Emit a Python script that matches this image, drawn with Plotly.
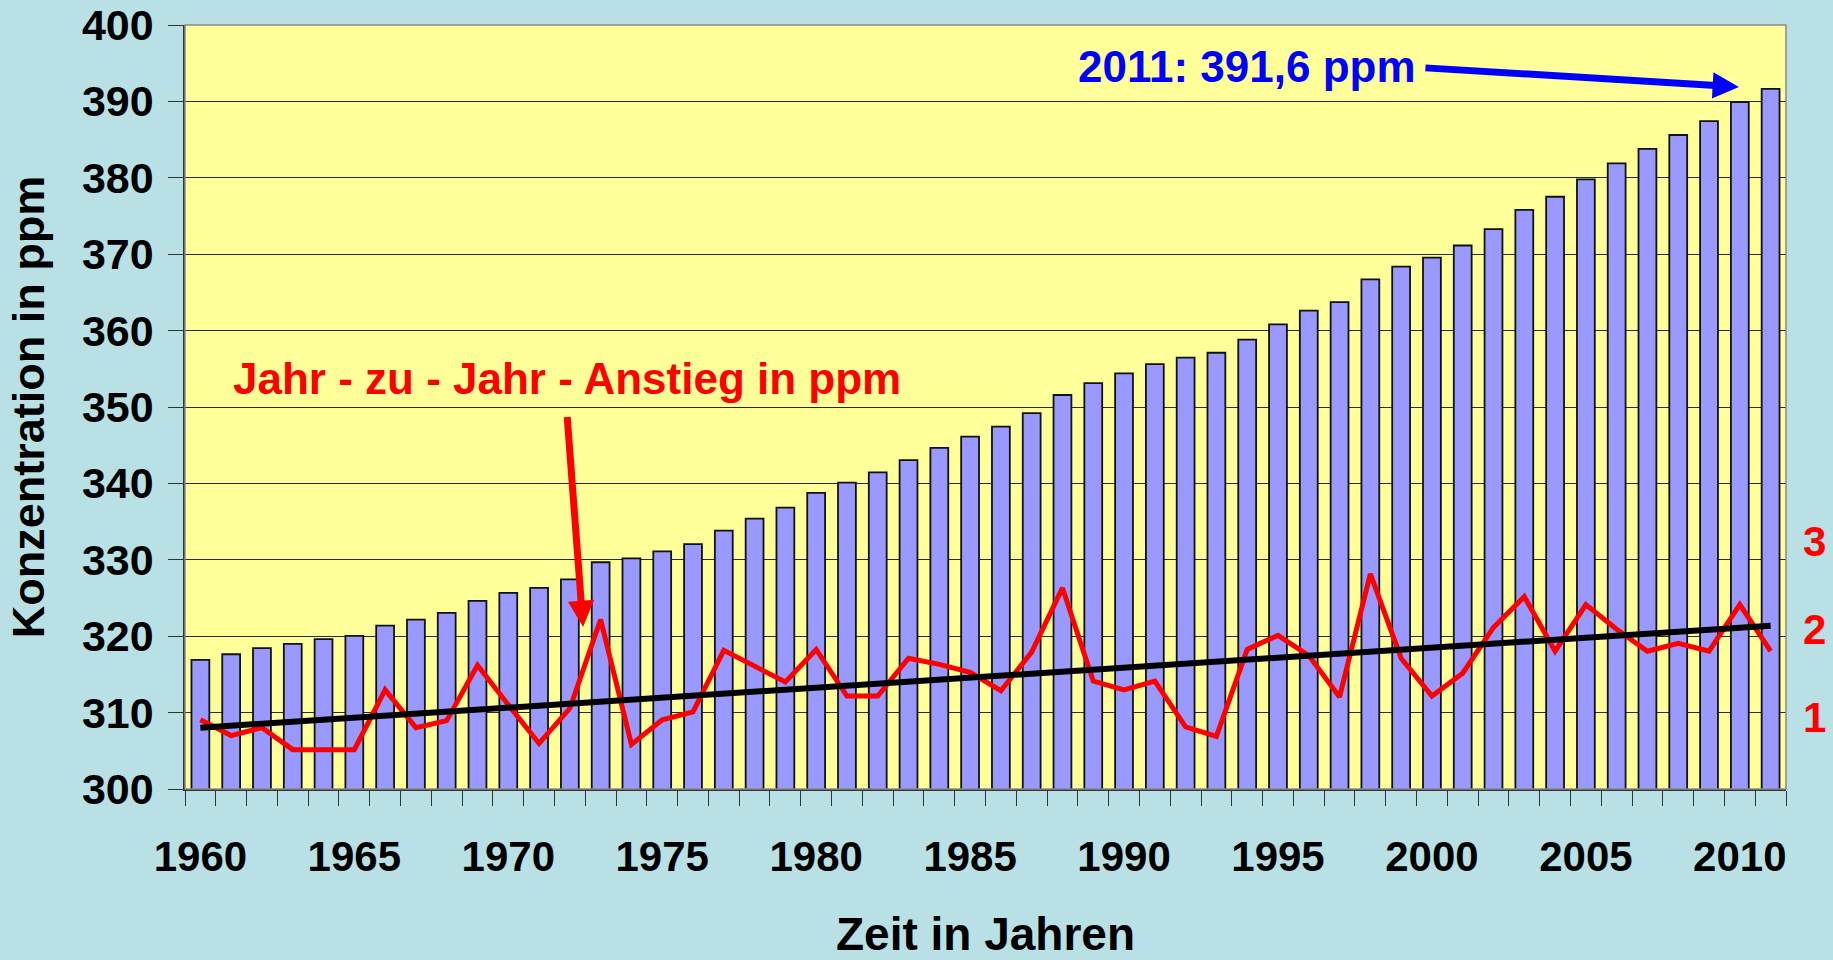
import plotly.graph_objects as go

# ---- data ----
years = list(range(1960, 2012))
co2_ppm = [316.91, 317.64, 318.45, 318.99, 319.62, 320.04, 321.38, 322.16, 323.04, 324.62,
           325.68, 326.32, 327.45, 329.68, 330.18, 331.11, 332.04, 333.83, 335.40, 336.84,
           338.75, 340.11, 341.45, 343.05, 344.65, 346.12, 347.42, 349.19, 351.57, 353.12,
           354.39, 355.61, 356.45, 357.10, 358.83, 360.82, 362.61, 363.73, 366.70, 368.38,
           369.55, 371.14, 373.28, 375.80, 377.52, 379.80, 381.90, 383.79, 385.60, 387.43,
           389.90, 391.65]
annual_increase = [0.97, 0.79, 0.88, 0.63, 0.63, 0.63, 1.31, 0.88, 0.96, 1.59,
                   1.14, 0.70, 1.10, 2.11, 0.69, 0.97, 1.06, 1.76, 1.58, 1.40,
                   1.77, 1.24, 1.24, 1.67, 1.60, 1.51, 1.30, 1.74, 2.47, 1.41,
                   1.31, 1.41, 0.89, 0.78, 1.77, 1.93, 1.70, 1.23, 2.63, 1.67,
                   1.24, 1.50, 2.02, 2.37, 1.75, 2.28, 2.00, 1.75, 1.84, 1.75,
                   2.28, 1.75]
trend_years = [1960, 2011]
trend_values = [0.88, 2.04]

x_tick_years = [1960, 1965, 1970, 1975, 1980, 1985, 1990, 1995, 2000, 2005, 2010]
y_ticks = [300, 310, 320, 330, 340, 350, 360, 370, 380, 390, 400]
y2_ticks = [1, 2, 3]

FONT = "Liberation Sans, Arial, sans-serif"
PAPER = "#B9E0E4"
PLOT = "#FFFF99"
BAR = "#9999FF"

fig = go.Figure()
fig.add_trace(go.Bar(x=years, y=co2_ppm, marker=dict(color=BAR, line=dict(color="#111111", width=1.8)),
                     name="CO2", showlegend=False))
fig.add_trace(go.Scatter(x=years, y=annual_increase, yaxis="y2", mode="lines",
                         line=dict(color="#FF0000", width=5), showlegend=False))
fig.add_trace(go.Scatter(x=trend_years, y=trend_values, yaxis="y2", mode="lines",
                         line=dict(color="#000000", width=6), showlegend=False))

fig.update_layout(
    width=1833, height=960,
    margin=dict(l=185, r=47, t=25, b=171, autoexpand=False),
    paper_bgcolor=PAPER, plot_bgcolor=PLOT,
    bargap=0.42,
    showlegend=False,
    font=dict(family=FONT, color="#000000"),
    xaxis=dict(
        range=[1959.5, 2011.5], tickmode="array", tickvals=x_tick_years,
        ticktext=[str(v) for v in x_tick_years],
        tickfont=dict(size=42, family=FONT, weight="bold", color="#000000"),
        ticks="", ticklabelstandoff=30, ticklabeloverflow="allow",
        minor=dict(ticks="outside", ticklen=15, tickcolor="#333333", tickwidth=1.3,
                   tick0=1959.5, dtick=1, showgrid=False),
        showgrid=False, showline=True, linecolor="#333333", linewidth=1.5,
        title=dict(text="Zeit in Jahren", font=dict(size=46, family=FONT, weight="bold"), standoff=46),
        zeroline=False, automargin=False,
    ),
    yaxis=dict(
        range=[300, 400], tickmode="array", tickvals=y_ticks,
        tickfont=dict(size=43, family=FONT, weight="bold", color="#000000"),
        ticks="outside", ticklen=15, tickcolor="#333333", tickwidth=1.3, ticklabelstandoff=6,
        ticklabeloverflow="allow",
        showgrid=True, gridcolor="#2a2a2a", gridwidth=1.2,
        showline=True, linecolor="#333333", linewidth=1.5,
        title=dict(text="Konzentration in ppm", font=dict(size=45, family=FONT, weight="bold"), standoff=23),
        zeroline=False, automargin=False,
    ),
    yaxis2=dict(
        overlaying="y", side="right", range=[0.182, 8.875], tickmode="array", tickvals=y2_ticks,
        tickfont=dict(size=42, family=FONT, weight="bold", color="#FF0000"),
        ticks="", showgrid=False, showline=False, zeroline=False, ticklabelstandoff=16,
        ticklabeloverflow="allow", automargin=False,
    ),
    annotations=[
        dict(x=1971.9, y=353.7, xref="x", yref="y", text="Jahr - zu - Jahr - Anstieg in ppm",
             showarrow=False, font=dict(size=44, family=FONT, weight="bold", color="#FF0000"),
             xanchor="center", yanchor="middle"),
        dict(x=1972.43, y=321.2, xref="x", yref="y", ax=1971.91, ay=348.9, axref="x", ayref="y",
             text="", showarrow=True, arrowhead=2, arrowsize=0.75, arrowwidth=7, arrowcolor="#FF0000"),
        dict(x=1994.0, y=394.6, xref="x", yref="y", text="2011: 391,6 ppm",
             showarrow=False, font=dict(size=44, family=FONT, weight="bold", color="#0000FF"),
             xanchor="center", yanchor="middle"),
        dict(x=2009.97, y=391.9, xref="x", yref="y", ax=1999.74, ay=394.4, axref="x", ayref="y",
             text="", showarrow=True, arrowhead=2, arrowsize=0.75, arrowwidth=7, arrowcolor="#0000FF"),
    ],
    shapes=[
        dict(type="rect", xref="paper", yref="paper", x0=0, x1=1, y0=0, y1=1,
             line=dict(color="#8a8a8a", width=1.5), layer="above"),
    ],
)

fig.write_html("out.html", config={"displayModeBar": False},
               post_script="document.body.style.margin='0';document.body.style.overflow='hidden';")
